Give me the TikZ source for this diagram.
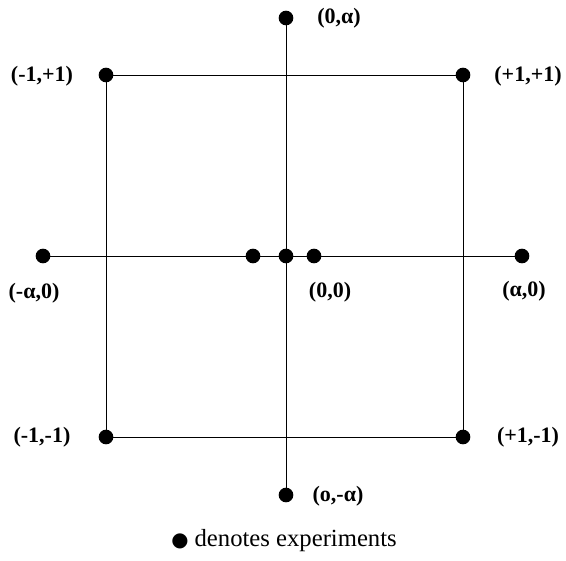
\documentclass[tikz,border=0pt]{standalone}
\usepackage{fontspec}
\setmainfont{Liberation Serif}
\begin{document}
\begin{tikzpicture}[x=0.75pt,y=-0.75pt,
  pt/.style={circle,fill=black,inner sep=0pt,minimum size=11pt},
  lbl/.style={font=\bfseries\fontsize{16.5}{18}\selectfont,inner sep=0pt},
  ln/.style={line width=0.7pt}]
\useasboundingbox (0,0) rectangle (566,560);
% points
\node[pt] (tl) at (106,75) {};
\node[pt] (tr) at (463,75) {};
\node[pt] (bl) at (106,437) {};
\node[pt] (br) at (463,437) {};
\node[pt] (top) at (286,18) {};
\node[pt] (bot) at (286,495) {};
\node[pt] (left) at (43,256) {};
\node[pt] (right) at (522,256) {};
\node[pt] (c) at (286,256) {};
\node[pt] (cl) at (253,256) {};
\node[pt] (cr) at (314,256) {};
% lines
\draw[ln] (tl.center) -- (tr.center) -- (br.center) -- (bl.center) -- cycle;
\draw[ln] (top.center) -- (bot.center);
\draw[ln] (left.center) -- (right.center);
% labels
\node[lbl] (ltop) at (339,18) {(0,α)};
\node[lbl] (ltl) at (42,76) {(-1,+1)};
\node[lbl] (ltr) at (528,76) {(+1,+1)};
\node[lbl] (lleft) at (34,293) {(-α,0)};
\node[lbl] (lc) at (330,292) {(0,0)};
\node[lbl] (lright) at (524,291) {(α,0)};
\node[lbl] (lbl1) at (42,437) {(-1,-1)};
\node[lbl] (lbr) at (528,437) {(+1,-1)};
\node[lbl] (lbot) at (338,496) {(o,-α)};
\node[font=\fontsize{18.5}{20}\selectfont,inner sep=0pt] (cap) at (284,541) {{\fontspec{DejaVu Sans}\scalebox{0.8}{●}} denotes experiments};
\end{tikzpicture}
\end{document}
